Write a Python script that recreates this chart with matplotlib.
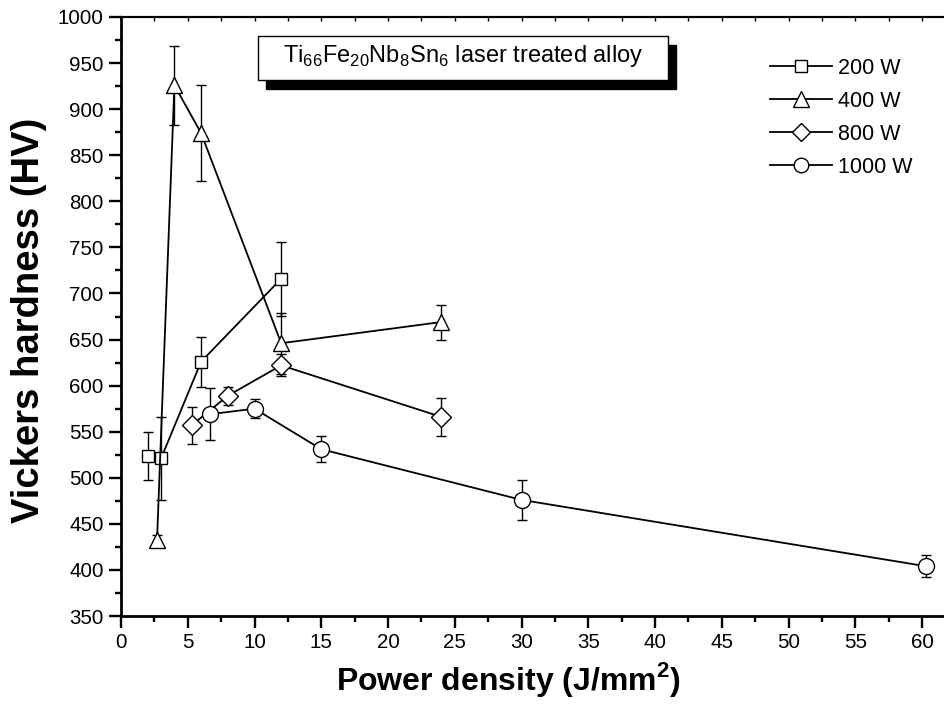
import matplotlib
matplotlib.use("Agg")
import matplotlib.pyplot as plt
from matplotlib.lines import Line2D
from matplotlib.patches import Rectangle
from matplotlib.ticker import MultipleLocator

plt.rcParams['font.family'] = ['Liberation Sans', 'DejaVu Sans']
plt.rcParams['mathtext.fontset'] = 'custom'
plt.rcParams['mathtext.rm'] = 'Liberation Sans'
plt.rcParams['mathtext.bf'] = 'Liberation Sans:bold'

# Data
x_200 = [2, 3, 6, 12]
y_200 = [524, 521, 626, 716]
e_200 = [26, 45, 27, 40]

x_400 = [2.7, 4, 6, 12, 24]
y_400 = [433, 926, 874, 646, 669]
e_400 = [5, 43, 52, 33, 19]

x_800 = [5.3, 8, 12, 24]
y_800 = [557, 589, 622, 566]
e_800 = [20, 10, 12, 21]

x_1000 = [6.7, 10, 15, 30, 60.3]
y_1000 = [569, 575, 531, 476, 404]
e_1000 = [28, 10, 14, 22, 12]

labels = ['200 W', '400 W', '800 W', '1000 W']
markers = ['s', '^', 'D', 'o']
sizes = [9, 11, 10, 11.5]
leg_sizes = [8, 11, 9.5, 10.5]

series = [(x_200, y_200, e_200), (x_400, y_400, e_400),
          (x_800, y_800, e_800), (x_1000, y_1000, e_1000)]

fig = plt.figure(figsize=(9.44, 7.06), dpi=100)
ax = fig.add_axes([121 / 944, 90 / 706, 827.7 / 944, 599 / 706])

for (xs, ys, es), mk, ms in zip(series, markers, sizes):
    ax.errorbar(xs, ys, yerr=es, color='black', lw=1.3, elinewidth=1.0,
                capsize=3.6, capthick=1.0, marker=mk, ms=ms,
                mfc='white', mec='black', mew=1.0, zorder=3)

ax.set_xlim(0, 62)
ax.set_ylim(350, 1000)
ax.xaxis.set_major_locator(MultipleLocator(5))
ax.xaxis.set_minor_locator(MultipleLocator(2.5))
ax.yaxis.set_major_locator(MultipleLocator(50))
ax.yaxis.set_minor_locator(MultipleLocator(25))

ax.tick_params(which='major', direction='out', length=8.5, width=1.7,
               labelsize=14.8, pad=4)
ax.tick_params(which='minor', direction='out', length=4.5, width=1.7)
ax.tick_params(which='both', top=False, right=False)

top = ax.secondary_xaxis('top')
top.xaxis.set_major_locator(MultipleLocator(2.5))
top.tick_params(direction='in', length=3, width=1.0, labeltop=False)
top.spines['top'].set_linewidth(1.5)

ax.spines['left'].set_linewidth(2)
ax.spines['bottom'].set_linewidth(2)
ax.spines['top'].set_linewidth(1.5)

ax.set_xlabel('Power density (J/mm$^\\mathbf{2}$)', fontsize=23,
              fontweight='bold')
ax.xaxis.set_label_coords(0.4676, -0.073)
ax.set_ylabel('Vickers hardness (HV)', fontsize=27.5, fontweight='bold')
ax.yaxis.set_label_coords(-0.0894, 0.494)

handles = [Line2D([], [], color='black', lw=1.3, marker=mk, ms=ms,
                  mfc='white', mec='black', mew=1.0)
           for mk, ms in zip(markers, leg_sizes)]
ax.legend(handles, labels, loc='upper left', bbox_to_anchor=(0.784, 0.932),
          frameon=False, fontsize=15.5, handlelength=2.87,
          handletextpad=0.3, labelspacing=0.56, borderpad=0,
          borderaxespad=0)

# Title box with a drop shadow
bx, by, bw, bh = 0.1655, 0.895, 0.4955, 0.074
ax.add_patch(Rectangle((bx + 0.0097, by - 0.015), bw, bh, transform=ax.transAxes,
                       facecolor='black', edgecolor='black', zorder=4))
ax.add_patch(Rectangle((bx, by), bw, bh, transform=ax.transAxes,
                       facecolor='white', edgecolor='black', lw=1.0, zorder=5))
ax.text(bx + bw / 2, by + bh / 2 + 0.003,
        'Ti$_{66}$Fe$_{20}$Nb$_{8}$Sn$_{6}$ laser treated alloy',
        transform=ax.transAxes, ha='center', va='center', fontsize=17,
        zorder=6)

fig.savefig('out.png', dpi=100)
